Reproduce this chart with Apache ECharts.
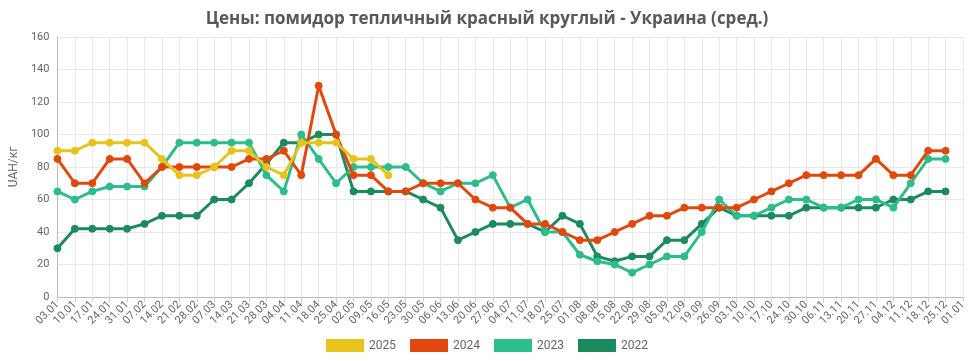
<!DOCTYPE html>
<html>
<head>
<meta charset="utf-8">
<script src="https://cdn.jsdelivr.net/npm/echarts@6/dist/echarts.min.js"></script>
<style>html,body{margin:0;padding:0;background:#fff}#c{width:974px;height:361px}</style>
</head>
<body>
<div id="c"></div>
<script>
const categories = ["03.01","10.01","17.01","24.01","31.01","07.02","14.02","21.02","28.02","07.03","14.03","21.03","28.03","04.04","11.04","18.04","25.04","02.05","09.05","16.05","23.05","30.05","06.06","13.06","20.06","27.06","04.07","11.07","18.07","25.07","01.08","08.08","15.08","22.08","29.08","05.09","12.09","19.09","26.09","03.10","10.10","17.10","24.10","30.10","06.11","13.11","20.11","27.11","04.12","11.12","18.12","25.12","01.01"];
const yTicks = [0,20,40,60,80,100,120,140,160];
const s2025 = [90,90,95,95,95,95,85,75,75,80,90,90,80,75,95,95,95,85,85,75];
const s2024 = [85,70,70,85,85,70,80,80,80,80,80,85,85,90,75,130,100,75,75,65,65,70,70,70,60,55,55,45,45,40,35,35,40,45,50,50,55,55,55,55,60,65,70,75,75,75,75,85,75,75,90,90];
const s2023 = [65,60,65,68,68,68,80,95,95,95,95,95,75,65,100,85,70,80,80,80,80,70,65,70,70,75,55,60,40,40,26,22,20,15,20,25,25,40,60,50,50,55,60,60,55,55,60,60,55,70,85,85];
const s2022 = [30,42,42,42,42,45,50,50,50,60,60,70,82,95,95,100,100,65,65,65,65,60,55,35,40,45,45,45,40,50,45,25,22,25,25,35,35,45,55,50,50,50,50,55,55,55,55,55,60,60,65,65];
const names = ["2025","2024","2023","2022"];
const colors = ["#e8c41a","#e2480c","#2bbd8c","#1b8a5f"];
const seriesData = [s2025, s2024, s2023, s2022];

const chart = echarts.init(document.getElementById('c'));
chart.setOption({
  animation: false,
  title: {
    text: 'Цены: помидор тепличный красный круглый - Украина (сред.)',
    left: 'center', top: 6,
    textStyle: { fontFamily: 'Open Sans', fontSize: 17, fontWeight: 'bold', color: '#595959' }
  },
  legend: {
    bottom: 4, left: 'center',
    itemWidth: 38, itemHeight: 13, itemGap: 14,
    icon: 'rect',
    textStyle: { fontFamily: 'Roboto', fontSize: 12, color: '#666' },
    data: names
  },
  grid: { left: 52, right: 11, top: 37, bottom: 64 },
  xAxis: {
    type: 'category', data: categories, boundaryGap: false,
    axisLine: { lineStyle: { color: '#bbb' } },
    axisTick: { show: true, alignWithLabel: true, lineStyle: { color: '#ccc' } },
    axisLabel: { rotate: 45, interval: 0, fontFamily: 'Roboto', fontSize: 11, color: '#666', margin: 6 },
    splitLine: { show: true, lineStyle: { color: '#e8e8e8' } }
  },
  yAxis: {
    type: 'value', min: yTicks[0], max: yTicks[yTicks.length-1], interval: yTicks[1]-yTicks[0],
    name: 'UAH/кг', nameLocation: 'middle', nameGap: 30, nameRotate: 90,
    nameTextStyle: { fontFamily: 'Roboto', fontSize: 12, color: '#666' },
    axisLine: { show: true, lineStyle: { color: '#bbb' } },
    axisTick: { show: false },
    axisLabel: { fontFamily: 'Roboto', fontSize: 11, color: '#666' },
    splitLine: { lineStyle: { color: '#e8e8e8' } }
  },
  series: names.map((n, k) => ({
    name: n, type: 'line', data: seriesData[k],
    symbol: 'circle', symbolSize: 7, showSymbol: true,
    lineStyle: { width: 3, color: colors[k] },
    itemStyle: { color: colors[k], borderColor: colors[k] },
    z: 10 - k
  }))
});
</script>
</body>
</html>
